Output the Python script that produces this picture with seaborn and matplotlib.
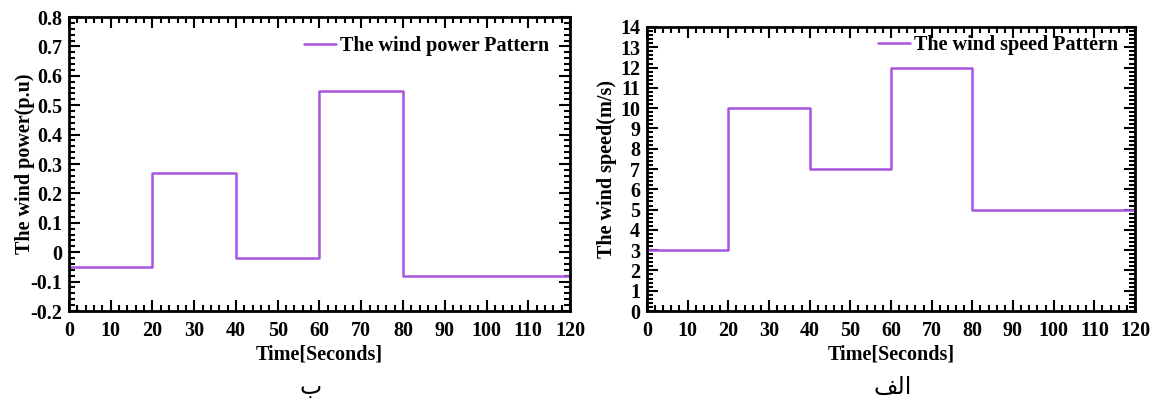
import numpy as np
import pandas as pd
import matplotlib
matplotlib.use("Agg")
import matplotlib.pyplot as plt
from matplotlib.ticker import MultipleLocator, FixedLocator
import seaborn as sns

# Step breakpoints (seconds) and levels held after each breakpoint
time_s = [0, 20, 40, 60, 80, 120]
wind_power = [-0.05, 0.27, -0.02, 0.55, -0.08, -0.08]
wind_speed = [3, 10, 7, 12, 5, 5]

x_ticks = list(range(0, 121, 10))
power_ticks = [-0.2, -0.1, 0, 0.1, 0.2, 0.3, 0.4, 0.5, 0.6, 0.7, 0.8]
power_labels = ["-0.2", "-0.1", "0", "0.1", "0.2", "0.3", "0.4", "0.5", "0.6", "0.7", "0.8"]
speed_ticks = list(range(0, 15))

sns.set_theme(style="ticks")
plt.rcParams["font.family"] = ["Liberation Serif", "DejaVu Sans"]
plt.rcParams["font.weight"] = "bold"
plt.rcParams["axes.labelweight"] = "bold"
plt.rcParams["text.color"] = "black"
plt.rcParams["axes.labelcolor"] = "black"
plt.rcParams["xtick.color"] = "black"
plt.rcParams["ytick.color"] = "black"

line_color = "#a655e0"
fs = 14.5

fig = plt.figure(figsize=(11.53, 4.01), dpi=100)
ax1 = fig.add_axes([0.0598, 0.2244, 0.4346, 0.7332])
ax2 = fig.add_axes([0.5611, 0.2244, 0.4233, 0.7083])

df_p = pd.DataFrame({"t": time_s, "v": wind_power})
df_s = pd.DataFrame({"t": time_s, "v": wind_speed})

sns.lineplot(data=df_p, x="t", y="v", ax=ax1, color=line_color, linewidth=1.8,
             drawstyle="steps-post", label="The wind power Pattern")
sns.lineplot(data=df_s, x="t", y="v", ax=ax2, color=line_color, linewidth=1.8,
             drawstyle="steps-post", label="The wind speed Pattern")


def style_axes(ax, yticks, ylim, yminor, ylabel, legend_anchor, ylabel_x, ylabels=None):
    ax.set_xlim(0, 120)
    ax.set_ylim(*ylim)
    ax.xaxis.set_major_locator(FixedLocator(x_ticks))
    ax.xaxis.set_minor_locator(MultipleLocator(2))
    ax.yaxis.set_major_locator(FixedLocator(yticks))
    ax.yaxis.set_minor_locator(MultipleLocator(yminor))
    if ylabels is not None:
        ax.set_yticklabels(ylabels)
    ax.tick_params(which="both", direction="in", top=True, right=True,
                   width=1.5, colors="black", labelcolor="black")
    ax.tick_params(which="major", length=8, labelsize=fs)
    ax.tick_params(axis="x", which="major", pad=7)
    ax.tick_params(axis="y", which="major", pad=5)
    ax.tick_params(which="minor", length=4)
    for lab in ax.get_xticklabels() + ax.get_yticklabels():
        lab.set_fontweight("bold")
    for sp in ax.spines.values():
        sp.set_visible(True)
        sp.set_linewidth(2)
        sp.set_color("black")
    ax.set_xlabel("Time[Seconds]", fontsize=fs, fontweight="bold", labelpad=3,
                  color="black")
    ax.set_ylabel(ylabel, fontsize=fs, fontweight="bold", color="black")
    ax.yaxis.set_label_coords(ylabel_x, 0.5)
    ax.legend(loc="center right", bbox_to_anchor=legend_anchor, frameon=False,
              handlelength=1.6, handletextpad=0.2, borderaxespad=0.0,
              prop={"size": fs, "weight": "bold"})
    ax.grid(False)


style_axes(ax1, power_ticks, (-0.2, 0.8), 0.02, "The wind power(p.u)",
           (0.975, 0.90), -0.068, power_labels)
style_axes(ax2, speed_ticks, (0, 14), 0.2, "The wind speed(m/s)",
           (0.982, 0.935), -0.061)

# Arabic panel captions, written in presentation forms (visual order)
fig.text(0.269, 0.035, "\uFE8F", fontsize=17, ha="center", va="center",
         family=["DejaVu Serif", "DejaVu Sans"], fontweight="normal")
fig.text(0.7745, 0.035, "\uFED2\uFEDF\uFE8D", fontsize=17, ha="center", va="center",
         family=["DejaVu Serif", "DejaVu Sans"], fontweight="normal")

fig.savefig("out.png", dpi=100)
